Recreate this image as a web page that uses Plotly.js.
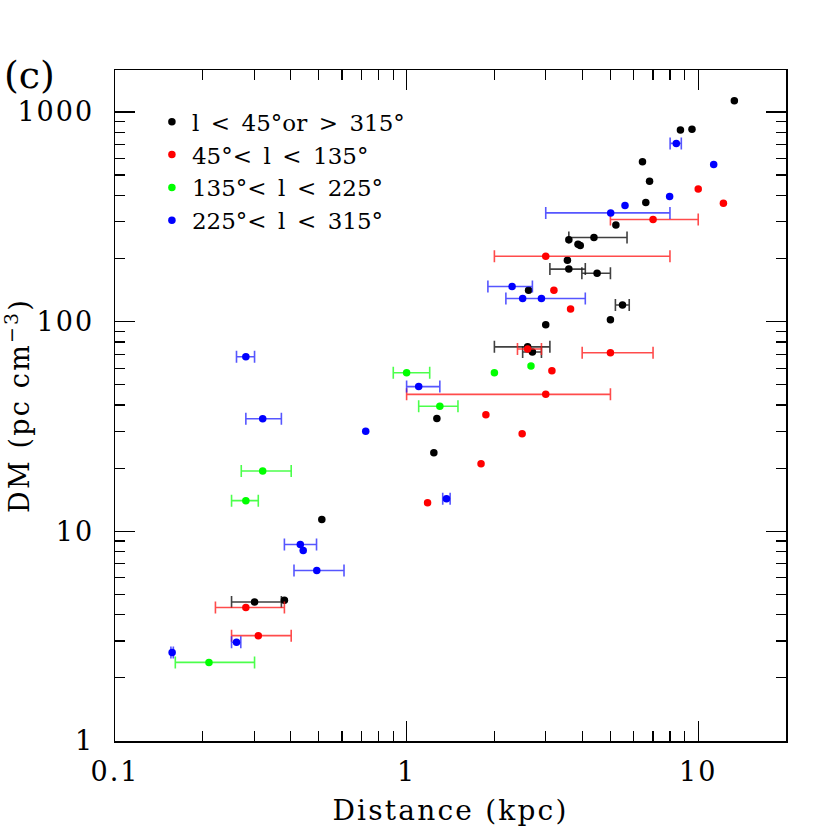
<!DOCTYPE html>
<html>
<head>
<meta charset="utf-8">
<script src="https://cdn.plot.ly/plotly-3.0.1.min.js"></script>
<style>
html,body{margin:0;padding:0;background:#fff;}
#chart{width:830px;height:830px;}
#chart .xtitle, #chart .ytitle {letter-spacing: 2.2px;}
#chart .xtick text, #chart .ytick text {letter-spacing: 2px;}
</style>
</head>
<body>
<div id="chart"></div>
<script>
// Distance (kpc), DM (pc cm^-3); errLo/errHi = x error bar ends (null = none)
const blackX  = [13.3, 8.69, 9.52, 6.44, 6.81, 6.61, 5.22, 4.39, 3.6, 3.87, 3.94, 3.56, 3.6, 4.5, 2.62, 5.5, 5.0, 3.0, 2.6, 2.7, 1.27, 1.24, 0.512, 0.301, 0.381];
const blackY  = [1130, 820, 828, 578, 467, 370, 289, 252, 246, 234, 231, 196, 178, 170, 141, 120, 102, 96.6, 75.8, 71.6, 34.5, 23.7, 11.4, 4.6, 4.69];
const blackLo = [null, null, null, null, null, null, null, 3.6, null, null, null, null, 3.1, 3.99, null, 5.2, null, null, 2.0, 2.5, null, null, null, 0.251, null];
const blackHi = [null, null, null, null, null, null, null, 5.7, null, null, null, null, 4.1, 5.0, null, 5.8, null, null, 3.1, 2.9, null, null, null, 0.372, null];

const redX  = [10.0, 12.2, 7.0, 3.0, 3.2, 3.65, 2.6, 5.0, 3.15, 3.0, 1.87, 2.49, 1.80, 1.18, 0.281, 0.31];
const redY  = [429, 367, 307, 205, 141, 115, 74, 71, 58.3, 45, 36, 29.2, 21, 13.7, 4.33, 3.18];
const redLo = [null, null, 5.0, 2.0, null, null, 2.4, 4.0, null, 1.0, null, null, null, null, 0.221, 0.251];
const redHi = [null, null, 10.0, 8.0, null, null, 2.9, 7.0, null, 5.0, null, null, null, null, 0.381, 0.402];

const greenX  = [1.0, 2.0, 2.67, 1.3, 0.321, 0.281, 0.21];
const greenY  = [57, 57, 61.5, 39.5, 19.4, 14.0, 2.37];
const greenLo = [0.90, null, null, 1.10, 0.271, 0.251, 0.161];
const greenHi = [1.20, null, null, 1.50, 0.402, 0.310, 0.301];

const blueX  = [8.41, 11.3, 7.98, 5.61, 5.01, 2.30, 2.50, 2.90, 1.10, 1.37, 0.281, 0.321, 0.724, 0.432, 0.442, 0.492, 0.261, 0.157];
const blueY  = [708, 562, 395, 358, 330, 147, 129, 129, 49, 14.3, 68, 34.4, 30, 8.65, 8.1, 6.5, 2.96, 2.64];
const blueLo = [8.01, null, null, null, 3.0, 1.90, null, 2.19, 1.0, 1.33, 0.261, 0.281, null, 0.381, null, 0.411, 0.251, 0.1555];
const blueHi = [8.75, null, null, null, 8.0, 2.70, null, 4.1, 1.30, 1.41, 0.301, 0.372, null, 0.491, null, 0.61, 0.27, 0.1585];

const groupNames = ['l\u2002<\u200245°or\u2002>\u2002315°', '45°<\u2002l\u2002<\u2002135°', '135°<\u2002l\u2002<\u2002225°', '225°<\u2002l\u2002<\u2002315°'];
const xTicks = [0.1, 1, 10];
const xTickText = ['0.1', '1', '10'];
const yTicks = [1, 10, 100, 1000];
const yTickText = ['1', '10', '100', '1000'];

const FONT = 'DejaVu Serif, Liberation Serif, serif';

function mkTrace(x, y, lo, hi, name, color, barColor) {
  const plus = x.map((v, i) => hi[i] == null ? NaN : hi[i] - v);
  const minus = x.map((v, i) => lo[i] == null ? NaN : v - lo[i]);
  return {
    type: 'scatter', mode: 'markers', x: x, y: y, name: name,
    marker: {color: color, size: 7.5, line: {width: 0}},
    error_x: {type: 'data', symmetric: false, array: plus, arrayminus: minus,
              color: barColor, thickness: 1.6, width: 6, visible: true},
    hoverinfo: 'x+y'
  };
}

const traces = [
  mkTrace(blackX, blackY, blackLo, blackHi, groupNames[0], '#000000', 'rgba(30,30,30,0.85)'),
  mkTrace(redX, redY, redLo, redHi, groupNames[1], '#ff0000', 'rgba(255,30,30,0.8)'),
  mkTrace(greenX, greenY, greenLo, greenHi, groupNames[2], '#00ff00', 'rgba(30,255,30,0.8)'),
  mkTrace(blueX, blueY, blueLo, blueHi, groupNames[3], '#0000ff', 'rgba(30,30,255,0.75)')
];

const layout = {
  width: 830, height: 830,
  margin: {l: 115, r: 44, t: 70, b: 89, pad: 0},
  paper_bgcolor: '#ffffff', plot_bgcolor: '#ffffff',
  font: {family: FONT, size: 27, color: '#000'},
  showlegend: true,
  legend: {
    x: 0.055, y: 0.955, xanchor: 'left', yanchor: 'top',
    bgcolor: 'rgba(0,0,0,0)', borderwidth: 0,
    font: {family: FONT, size: 23},
    traceorder: 'normal', itemwidth: 30, tracegroupgap: 0,
    itemclick: false, itemdoubleclick: false
  },
  xaxis: {
    type: 'log', range: [-1, Math.log10(20)], autorange: false,
    showgrid: false, zeroline: false,
    showline: true, linecolor: '#000', linewidth: 1.5, mirror: 'allticks',
    ticks: 'inside', ticklen: 20, tickwidth: 1.2, tickcolor: '#000',
    tickvals: xTicks, ticktext: xTickText,
    tickfont: {family: FONT, size: 27, color: '#000'},
    ticklabelstandoff: 6,
    minor: {ticks: 'inside', ticklen: 10, tickwidth: 1.2, tickcolor: '#000', dtick: 'D1', showgrid: false},
    title: {text: 'Distance (kpc)', font: {family: FONT, size: 28, color: '#000'}, standoff: 14}
  },
  yaxis: {
    type: 'log', range: [0, 3.2], autorange: false,
    showgrid: false, zeroline: false,
    showline: true, linecolor: '#000', linewidth: 1.5, mirror: 'allticks',
    ticks: 'inside', ticklen: 20, tickwidth: 1.2, tickcolor: '#000',
    tickvals: yTicks, ticktext: yTickText,
    tickfont: {family: FONT, size: 27, color: '#000'},
    ticklabelstandoff: 14,
    minor: {ticks: 'inside', ticklen: 10, tickwidth: 1.2, tickcolor: '#000', dtick: 'D1', showgrid: false},
    title: {text: 'DM (pc cm<sup>−3</sup>)', font: {family: FONT, size: 27, color: '#000'}, standoff: 8}
  },
  annotations: [{
    text: '(c)', xref: 'paper', yref: 'paper', x: -0.168, y: 0.993,
    xanchor: 'left', yanchor: 'middle', showarrow: false,
    font: {family: FONT, size: 38, color: '#000'}
  }]
};

Plotly.newPlot('chart', traces, layout, {staticPlot: true, displayModeBar: false});
</script>
</body>
</html>
